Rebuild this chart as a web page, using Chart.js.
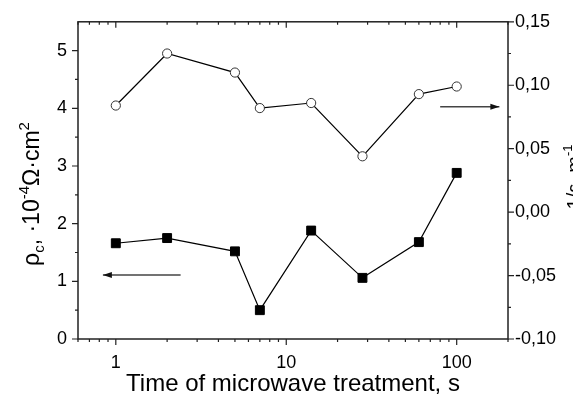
<!DOCTYPE html>
<html>
<head>
<meta charset="utf-8">
<script src="https://cdn.jsdelivr.net/npm/chart.js@4/dist/chart.umd.min.js"></script>
<style>
  body { margin: 0; background: #fff; }
  canvas { display: block; }
</style>
</head>
<body>
<canvas id="chart" width="573" height="397"></canvas>
<script>
// treatment time, s
const times = [1, 2, 5, 7, 14, 28, 60, 100]
// contact resistivity, 10^-4 Ohm*cm^2 (left axis, filled squares)
const rhoValues = [1.66, 1.75, 1.52, 0.50, 1.88, 1.06, 1.68, 2.88]
// right axis series (open circles)
const rightValues = [0.084, 0.125, 0.110, 0.082, 0.086, 0.044, 0.093, 0.099]

const xMajor = [1, 10, 100]
const yMajor = [0, 1, 2, 3, 4, 5]
const y2Major = [-0.1, -0.05, 0, 0.05, 0.1, 0.15]

const FONT = "'Liberation Sans', Arial, sans-serif"
Chart.defaults.font.family = FONT
Chart.defaults.color = '#000'

const ink = '#222'

const drawArrow = (ctx, x1, y1, x2, y2) => {
  ctx.strokeStyle = '#444'
  ctx.fillStyle = '#111'
  ctx.lineWidth = 1.5
  ctx.beginPath()
  ctx.moveTo(x1, y1)
  ctx.lineTo(x2, y2)
  ctx.stroke()
  const dir = Math.sign(x2 - x1)
  ctx.beginPath()
  ctx.moveTo(x2, y2)
  ctx.lineTo(x2 - dir * 9, y2 - 3)
  ctx.lineTo(x2 - dir * 9, y2 + 3)
  ctx.closePath()
  ctx.fill()
}

// draws pieces of rotated text, [text, size, baseline shift]
const drawRich = (ctx, cx, cy, pieces) => {
  ctx.save()
  ctx.translate(cx, cy)
  ctx.rotate(-Math.PI / 2)
  ctx.textAlign = 'left'
  ctx.textBaseline = 'alphabetic'
  ctx.fillStyle = '#000'
  let total = 0
  pieces.forEach(p => { ctx.font = p[1] + 'px ' + FONT; total += ctx.measureText(p[0]).width })
  let x = -total / 2
  pieces.forEach(p => {
    ctx.font = p[1] + 'px ' + FONT
    ctx.fillText(p[0], x, p[2])
    x += ctx.measureText(p[0]).width
  })
  ctx.restore()
}

const frame = {
  id: 'frame',
  afterDraw(chart) {
    const { ctx, chartArea: a, scales } = chart
    const { x, y, y2 } = scales
    ctx.save()
    ctx.strokeStyle = ink
    ctx.lineWidth = 1.5
    ctx.strokeRect(a.left, a.top, a.right - a.left, a.bottom - a.top)

    ctx.lineWidth = 1.2
    ctx.beginPath()
    // x ticks (bottom outward, top inward)
    const xMinor = []
    ;[0.1, 1, 10, 100].forEach(d => { for (let k = 2; k <= 9; k++) xMinor.push(k * d) })
    xMajor.concat(xMinor).forEach(v => {
      if (v < x.min || v > x.max) return
      const px = x.getPixelForValue(v)
      const len = xMajor.includes(v) ? 6 : 3
      ctx.moveTo(px, a.bottom); ctx.lineTo(px, a.bottom + len)
      ctx.moveTo(px, a.top); ctx.lineTo(px, a.top + len)
    })
    // left y ticks
    yMajor.forEach(v => {
      const py = y.getPixelForValue(v)
      ctx.moveTo(a.left, py); ctx.lineTo(a.left - 6, py)
      const pm = y.getPixelForValue(v + 0.5)
      if (v + 0.5 < y.max) { ctx.moveTo(a.left, pm); ctx.lineTo(a.left - 3, pm) }
    })
    // right y ticks
    y2Major.forEach(v => {
      const py = y2.getPixelForValue(v)
      ctx.moveTo(a.right, py); ctx.lineTo(a.right + 6, py)
      if (v + 0.025 < y2.max) {
        const pm = y2.getPixelForValue(v + 0.025)
        ctx.moveTo(a.right, pm); ctx.lineTo(a.right + 3, pm)
      }
    })
    ctx.stroke()

    // arrows pointing to the axis of each series
    drawArrow(ctx, x.getPixelForValue(2.4), y.getPixelForValue(1.11), x.getPixelForValue(0.84), y.getPixelForValue(1.11))
    drawArrow(ctx, x.getPixelForValue(80), y2.getPixelForValue(0.083), x.getPixelForValue(178), y2.getPixelForValue(0.083))

    // axis titles
    ctx.fillStyle = '#000'
    ctx.font = '24px ' + FONT
    ctx.textAlign = 'center'
    ctx.textBaseline = 'alphabetic'
    ctx.fillText('Time of microwave treatment, s', (a.left + a.right) / 2, 391)

    drawRich(ctx, 39, 194, [
      ['ρ', 23, 0], ['c', 15, 5], [', ·10', 23, 0], ['-4', 15, -10], ['Ω·cm', 23, 0], ['2', 15, -10]
    ])
    drawRich(ctx, 581, 177, [['1/ε, m', 20, 0], ['-1', 13, -9]])
    ctx.restore()
  }
}

const chart = new Chart(document.getElementById('chart'), {
  type: 'line',
  data: {
    datasets: [
      {
        data: times.map((t, i) => ({ x: t, y: rhoValues[i] })),
        yAxisID: 'y',
        borderColor: '#000',
        borderWidth: 1.2,
        pointStyle: 'rect',
        pointRadius: 6.3,
        pointBackgroundColor: '#000',
        pointBorderColor: '#000',
        pointBorderWidth: 1
      },
      {
        data: times.map((t, i) => ({ x: t, y: rightValues[i] })),
        yAxisID: 'y2',
        borderColor: '#000',
        borderWidth: 1.2,
        pointStyle: 'circle',
        pointRadius: 4.6,
        pointBackgroundColor: '#fff',
        pointBorderColor: '#333',
        pointBorderWidth: 1
      }
    ]
  },
  options: {
    responsive: false,
    animation: false,
    layout: { padding: { top: 19, left: 0, right: 0, bottom: 0 } },
    plugins: { legend: { display: false }, tooltip: { enabled: false } },
    scales: {
      x: {
        type: 'logarithmic',
        min: 0.6,
        max: 200,
        grid: { display: false, drawTicks: false },
        border: { display: false },
        ticks: {
          autoSkip: false,
          maxRotation: 0,
          padding: 13,
          font: { size: 18 },
          color: '#000',
          callback: v => xMajor.includes(v) ? String(v) : ''
        },
        afterFit: s => { s.height = 58 }
      },
      y: {
        position: 'left',
        min: 0,
        max: 5.5,
        grid: { display: false, drawTicks: false },
        border: { display: false },
        ticks: {
          stepSize: 1,
          padding: 11,
          font: { size: 18 },
          color: '#000'
        },
        afterBuildTicks: s => { s.ticks = s.ticks.filter(t => yMajor.includes(t.value)) },
        afterFit: s => { s.width = 78 }
      },
      y2: {
        position: 'right',
        min: -0.1,
        max: 0.15,
        grid: { display: false, drawTicks: false },
        border: { display: false },
        ticks: {
          stepSize: 0.05,
          padding: 7,
          font: { size: 18 },
          color: '#000',
          callback: v => v.toFixed(2).replace('.', ',')
        },
        afterFit: s => { s.width = 65 }
      }
    }
  },
  plugins: [frame]
})
</script>
</body>
</html>
